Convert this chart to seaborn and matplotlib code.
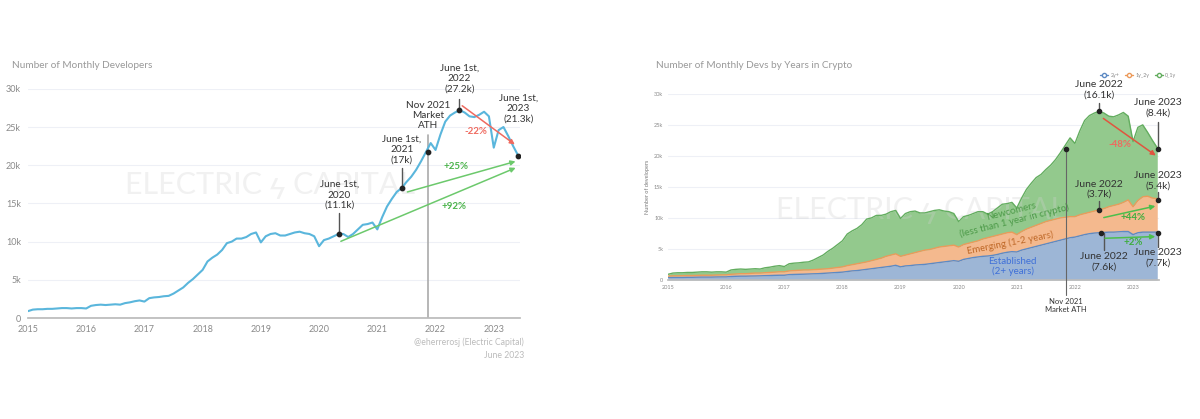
import matplotlib
matplotlib.use("Agg")
import matplotlib.pyplot as plt
import numpy as np
import pandas as pd
import seaborn as sns

# --------------------------------------------------------------------------- #
# Data (thousands of monthly active developers, Jan 2015 .. Jun 2023)
# --------------------------------------------------------------------------- #
months = pd.date_range("2015-01-01", "2023-06-01", freq="MS")

total_devs = [
    0.9, 1.1, 1.15, 1.15, 1.2, 1.2, 1.25, 1.3, 1.3, 1.25, 1.3, 1.3,
    1.25, 1.6, 1.7, 1.75, 1.7, 1.75, 1.8, 1.75, 1.95, 2.05, 2.2, 2.3,
    2.15, 2.6, 2.7, 2.75, 2.85, 2.9, 3.2, 3.6, 4.0, 4.6, 5.1, 5.7,
    6.3, 7.4, 7.9, 8.3, 8.9, 9.8, 10.0, 10.4, 10.4, 10.6, 11.0, 11.2,
    9.9, 10.7, 11.0, 11.1, 10.8, 10.8, 11.0, 11.2, 11.3, 11.1, 11.0, 10.7,
    9.4, 10.2, 10.4, 10.7, 11.0, 11.0, 10.6, 11.0, 11.6, 12.2, 12.3, 12.5,
    11.6, 13.2, 14.6, 15.6, 16.5, 17.0, 17.8, 18.5, 19.4, 20.5, 21.7, 22.9,
    22.0, 24.0, 25.7, 26.5, 26.9, 27.2, 26.9, 26.4, 26.3, 26.6, 27.0, 26.4,
    22.3, 24.6, 25.0, 23.8, 22.5, 21.3,
]

established = [
    0.35, 0.4, 0.4, 0.4, 0.42, 0.42, 0.44, 0.45, 0.45, 0.45, 0.47, 0.48,
    0.48, 0.55, 0.58, 0.6, 0.6, 0.62, 0.63, 0.65, 0.68, 0.7, 0.73, 0.75,
    0.75, 0.85, 0.88, 0.9, 0.92, 0.95, 0.98, 1.0, 1.05, 1.1, 1.15, 1.2,
    1.25, 1.35, 1.45, 1.5, 1.6, 1.7, 1.8, 1.9, 2.0, 2.1, 2.2, 2.35,
    2.1, 2.25, 2.3, 2.4, 2.45, 2.5, 2.6, 2.7, 2.8, 2.9, 3.0, 3.1,
    3.0, 3.3, 3.45, 3.6, 3.7, 3.8, 3.85, 3.95, 4.1, 4.3, 4.45, 4.55,
    4.5, 4.8, 5.0, 5.2, 5.4, 5.6, 5.8, 6.0, 6.2, 6.4, 6.6, 6.8,
    6.9, 7.1, 7.3, 7.45, 7.55, 7.6, 7.65, 7.7, 7.7, 7.75, 7.8, 7.8,
    7.3, 7.6, 7.7, 7.7, 7.7, 7.7,
]

emerging = [
    0.25, 0.25, 0.25, 0.28, 0.28, 0.28, 0.28, 0.3, 0.3, 0.3, 0.31, 0.32,
    0.32, 0.35, 0.37, 0.4, 0.4, 0.43, 0.47, 0.45, 0.47, 0.5, 0.52, 0.55,
    0.55, 0.6, 0.62, 0.65, 0.68, 0.65, 0.67, 0.7, 0.7, 0.7, 0.75, 0.8,
    0.85, 0.95, 1.0, 1.1, 1.15, 1.2, 1.3, 1.4, 1.5, 1.7, 1.8, 1.85,
    1.7, 1.75, 1.9, 2.0, 2.15, 2.3, 2.3, 2.4, 2.5, 2.5, 2.5, 2.5,
    2.3, 2.4, 2.45, 2.5, 2.6, 2.8, 2.95, 3.05, 3.1, 3.1, 3.15, 3.15,
    2.8, 3.0, 3.2, 3.3, 3.4, 3.5, 3.6, 3.6, 3.6, 3.6, 3.5, 3.4,
    3.3, 3.4, 3.4, 3.45, 3.55, 3.7, 3.85, 4.1, 4.3, 4.45, 4.7, 5.1,
    4.5, 5.2, 5.7, 5.8, 5.5, 5.4,
]

year_ticks = [2015, 2016, 2017, 2018, 2019, 2020, 2021, 2022, 2023]
k_ticks = [0, 5, 10, 15, 20, 25, 30]
k_labels = ["0", "5k", "10k", "15k", "20k", "25k", "30k"]

# annotated points on the total series (decimal year, k)
total_marks = {"jun20": (2020.35, 11.0), "jun21": (2021.42, 17.0),
               "nov21": (2021.87, 21.7), "jun22": (2022.41, 27.2),
               "jun23": (2023.42, 21.2)}

# --------------------------------------------------------------------------- #
df = pd.DataFrame({
    "year": months.year + (months.month - 1) / 12.0,
    "total": total_devs,
    "established": established,
    "emerging": emerging,
})
df["newcomers"] = df["total"] - df["established"] - df["emerging"]

sns.set_theme(style="white")
plt.rcParams["font.family"] = ["Lato", "DejaVu Sans"]

LINE_BLUE = "#5ab6dc"
GRID = "#eef0f6"
TICK_GREY = "#8a8a8a"
TXT = "#333333"
RED = "#ef6a5f"
GREEN = "#6cc96c"

fig = plt.figure(figsize=(12, 4.19), dpi=100)
fig.patch.set_facecolor("white")

# ---------------- left: total monthly developers -------------------------- #
ax1 = fig.add_axes([0.0233, 0.241, 0.41, 0.547])
sns.lineplot(data=df, x="year", y="total", ax=ax1, color=LINE_BLUE, lw=1.5)
ax1.set_xlim(2015, 2023.45)
ax1.set_ylim(0, 30)
ax1.set_xticks(year_ticks)
ax1.set_xticklabels([str(y) for y in year_ticks], fontsize=6.5, color=TICK_GREY)
ax1.set_yticks(k_ticks)
ax1.set_yticklabels(k_labels, fontsize=6.5, color=TICK_GREY)
ax1.set_yticks(np.arange(0, 30, 1), minor=True)
ax1.tick_params(axis="y", which="both", length=2, color="#aaaaaa", pad=3)
ax1.tick_params(axis="x", length=3, color="#aaaaaa", pad=2)
ax1.yaxis.grid(True, color=GRID, lw=0.8)
ax1.set_axisbelow(True)
for s in ["top", "right", "left"]:
    ax1.spines[s].set_visible(False)
ax1.spines["bottom"].set_color("#bbbbbb")
ax1.set_xlabel("")
ax1.set_ylabel("")

ax1.text(2019.15, 17.4, "ELECTRIC ϟ CAPITAL", fontsize=22, color="#f1f1f1",
         ha="center", va="center", zorder=0)

# vertical Nov 2021 line
ax1.plot([2021.87, 2021.87], [0, 24.0], color="#aaaaaa", lw=1.2, zorder=1)

mx = [v[0] for v in total_marks.values()]
my = [v[1] for v in total_marks.values()]
ax1.scatter(mx, my, s=10, color="#222222", zorder=5)

def tag(ax, x, y_text, y_from, y_to, label, fs=7.2):
    ax.text(x, y_text, label, ha="center", va="center", fontsize=fs,
            color=TXT, linespacing=1.2, clip_on=False)
    if y_from is not None:
        ax.plot([x, x], [y_from, y_to], color="#555555", lw=1.0, clip_on=False)

tag(ax1, 2020.35, 16.1, 13.8, 11.0, "June 1st,\n2020\n(11.1k)")
tag(ax1, 2021.42, 22.1, 19.6, 17.0, "June 1st,\n2021\n(17k)")
tag(ax1, 2021.87, 26.5, None, None, "Nov 2021\nMarket\nATH")
tag(ax1, 2022.41, 31.3, 28.7, 27.2, "June 1st,\n2022\n(27.2k)")
tag(ax1, 2023.42, 27.4, None, None, "June 1st,\n2023\n(21.3k)")

arrow = dict(arrowstyle="-|>", lw=1.1, mutation_scale=7)
ax1.annotate("", xy=(2023.40, 22.5), xytext=(2022.42, 28.0),
             arrowprops=dict(arrow, color=RED))
ax1.text(2022.70, 24.4, "-22%", color=RED, fontsize=7, ha="center", va="center",
         fontweight="bold")
ax1.annotate("", xy=(2023.42, 20.6), xytext=(2021.47, 16.4),
             arrowprops=dict(arrow, color=GREEN))
ax1.text(2022.36, 19.8, "+25%", color="#4cb44c", fontsize=7, ha="center",
         va="center", fontweight="bold")
ax1.annotate("", xy=(2023.42, 19.8), xytext=(2020.33, 9.9),
             arrowprops=dict(arrow, color=GREEN))
ax1.text(2022.31, 14.6, "+92%", color="#4cb44c", fontsize=7, ha="center",
         va="center", fontweight="bold")

fig.text(12 / 1200, 1 - 66 / 419, "Number of Monthly Developers", fontsize=7.2,
         color="#999999", ha="left", va="center")
fig.text(524 / 1200, 1 - 342 / 419, "@eherrerosj (Electric Capital)", fontsize=6.2,
         color="#bbbbbb", ha="right", va="center")
fig.text(524 / 1200, 1 - 355 / 419, "June 2023", fontsize=6.2,
         color="#bbbbbb", ha="right", va="center")

# ---------------- right: stacked by years in crypto ----------------------- #
ax2 = fig.add_axes([0.5567, 0.332, 0.4093, 0.444])
layers = ["established", "emerging", "newcomers"]
fills = ["#9db6d6", "#f4b98e", "#93c98d"]
edges = ["#5d8ac4", "#ec9a5a", "#63ad5f"]
base = np.zeros(len(df))
for col, fc, ec in zip(layers, fills, edges):
    top = base + df[col].to_numpy()
    ax2.fill_between(df["year"], base, top, color=fc, lw=0, zorder=2)
    sns.lineplot(x=df["year"].to_numpy(), y=top, ax=ax2, color=ec, lw=1.0, zorder=3)
    base = top

ax2.set_xlim(2015, 2023.45)
ax2.set_ylim(0, 30)
ax2.set_xticks(year_ticks)
ax2.set_xticklabels([str(y) for y in year_ticks], fontsize=4, color=TICK_GREY)
ax2.set_yticks(k_ticks)
ax2.set_yticklabels(k_labels, fontsize=4, color=TICK_GREY)
ax2.set_yticks(np.arange(0, 30, 1), minor=True)
ax2.tick_params(axis="y", which="both", length=1.5, color="#aaaaaa", pad=2)
ax2.tick_params(axis="x", length=2, color="#aaaaaa", pad=1.5)
ax2.yaxis.grid(True, color=GRID, lw=0.8)
ax2.set_axisbelow(True)
for s in ["top", "right", "left"]:
    ax2.spines[s].set_visible(False)
ax2.spines["bottom"].set_color("#bbbbbb")
ax2.set_xlabel("")
ax2.set_ylabel("Number of developers", fontsize=4, color="#777777", labelpad=3)

ax2.text(2019.35, 11.3, "ELECTRIC ϟ CAPITAL", fontsize=22, color="#d0d0d0",
         ha="center", va="center", zorder=2.5, alpha=0.3)

# legend
for lbl, ec in zip(["2y+", "1y_2y", "0_1y"], edges):
    ax2.plot([], [], color=ec, marker="o", ms=3, mfc="white", lw=1, label=lbl)
ax2.legend(loc="center right", bbox_to_anchor=(1.035, 1.10), ncol=3, fontsize=3.8,
           frameon=False, handlelength=1.6, columnspacing=1.0, handletextpad=0.4,
           labelcolor="#888888", borderaxespad=0, borderpad=0)

# Nov 2021 ATH line
ax2.plot([2021.85, 2021.85], [-2.5, 21.1], color="#666666", lw=0.8,
         clip_on=False, zorder=4)
ax2.text(2021.85, -3.0, "Nov 2021\nMarket ATH", fontsize=5.5, color=TXT,
         ha="center", va="top", linespacing=1.1)

pts_x = [2021.85, 2022.42, 2023.43, 2022.42, 2023.43, 2022.45, 2023.43]
pts_y = [21.1, 27.2, 21.1, 11.2, 12.9, 7.6, 7.6]
ax2.scatter(pts_x, pts_y, s=9, color="#222222", zorder=6, clip_on=False)

tag(ax2, 2022.42, 30.6, 28.5, 27.2, "June 2022\n(16.1k)", fs=7.5)
tag(ax2, 2023.43, 27.7, 25.4, 21.1, "June 2023\n(8.4k)", fs=7.5)
tag(ax2, 2022.42, 14.6, 12.8, 11.2, "June 2022\n(3.7k)", fs=7.5)
tag(ax2, 2023.43, 16.0, 14.2, 12.9, "June 2023\n(5.4k)", fs=7.5)
tag(ax2, 2022.50, 2.9, 4.8, 7.6, "June 2022\n(7.6k)", fs=7.5)
tag(ax2, 2023.43, 3.5, 5.3, 7.6, "June 2023\n(7.7k)", fs=7.5)

ax2.annotate("", xy=(2023.43, 19.8), xytext=(2022.45, 26.3),
             arrowprops=dict(arrow, color="#e0553f"))
ax2.text(2022.77, 21.8, "-48%", color=RED, fontsize=7, ha="center", va="center",
         fontweight="bold")
ax2.annotate("", xy=(2023.43, 12.0), xytext=(2022.45, 9.95),
             arrowprops=dict(arrow, color="#4cbf4c"))
ax2.text(2023.0, 10.0, "+44%", color="#3fae3f", fontsize=7, ha="center",
         va="center", fontweight="bold")
ax2.annotate("", xy=(2023.43, 7.0), xytext=(2022.47, 6.7),
             arrowprops=dict(arrow, color="#4cbf4c"))
ax2.text(2023.0, 6.0, "+2%", color="#3fae3f", fontsize=7, ha="center",
         va="center", fontweight="bold")

ax2.text(2020.93, 10.3, "Newcomers\n(less than 1 year in crypto)", rotation=14,
         fontsize=7, color="#4c9a48", ha="center", va="center", linespacing=1.1,
         zorder=5)
ax2.text(2020.88, 6.0, "Emerging (1-2 years)", rotation=11, fontsize=7,
         color="#c06a2a", ha="center", va="center", zorder=5)
ax2.text(2020.93, 2.15, "Established\n(2+ years)", fontsize=7, color="#3f70d8",
         ha="center", va="center", linespacing=1.1, zorder=5)

fig.text(656 / 1200, 1 - 66 / 419, "Number of Monthly Devs by Years in Crypto",
         fontsize=7.2, color="#999999", ha="left", va="center")

fig.savefig("out.png", dpi=100, facecolor="white")
